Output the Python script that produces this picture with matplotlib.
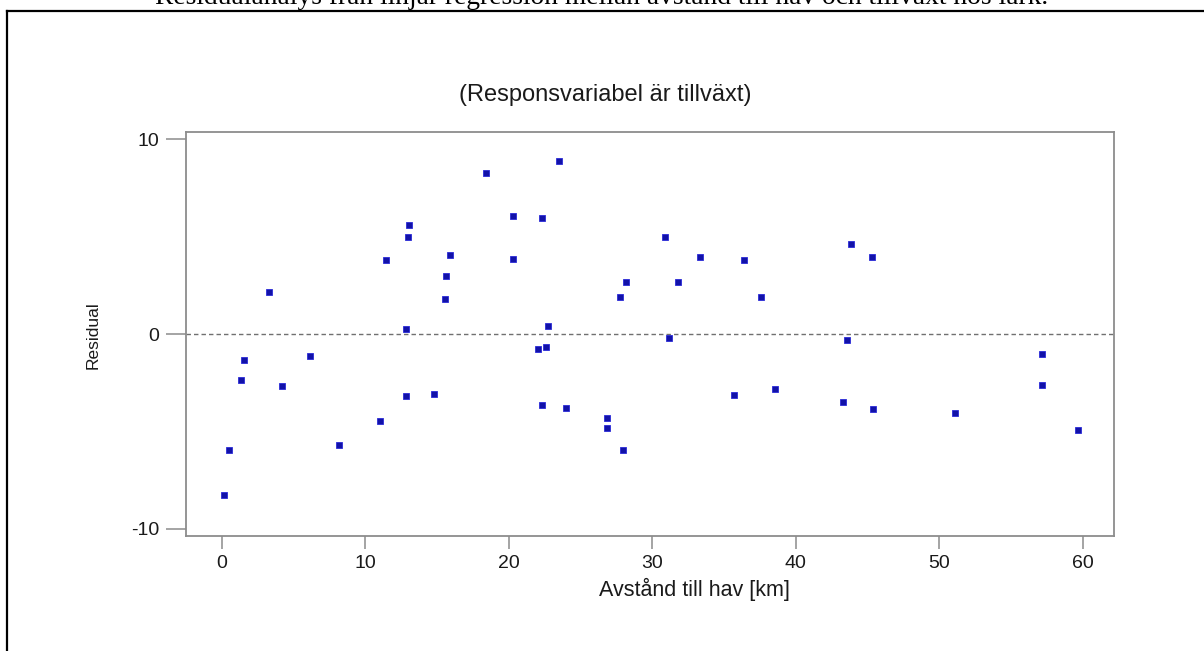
import matplotlib
matplotlib.use("Agg")
import matplotlib.pyplot as plt
from matplotlib.lines import Line2D

# avstånd till hav [km] och residualer
avstand = [0.16, 0.5, 1.35, 1.55, 3.32, 4.2, 6.17, 8.2, 11.0, 11.47,
           12.84, 12.84, 12.96, 13.05, 14.77, 15.54, 15.6, 15.89, 18.44, 20.28,
           20.32, 22.06, 22.6, 22.35, 22.76, 22.34, 23.5, 23.97, 26.86, 26.86,
           27.94, 27.74, 28.19, 30.9, 31.2, 31.82, 33.35, 35.7, 36.36, 37.56,
           38.58, 43.27, 43.6, 43.83, 45.3, 45.39, 51.07, 57.15, 57.15, 59.65]
residual = [-8.28, -5.93, -2.34, -1.35, 2.17, -2.69, -1.15, -5.68, -4.45, 3.79,
            -3.2, 0.27, 4.97, 5.62, -3.08, 1.81, 2.99, 4.05, 8.26, 6.08,
            3.86, -0.75, -0.69, -3.66, 0.43, 5.95, 8.89, -3.8, -4.31, -4.84,
            -5.98, 1.9, 2.68, 4.97, -0.22, 2.68, 3.98, -3.13, 3.78, 1.9,
            -2.82, -3.49, -0.29, 4.61, 3.95, -3.85, -4.05, -1.01, -2.63, -4.92]
xticks = [0, 10, 20, 30, 40, 50, 60]
yticks = [-10, 0, 10]

huvudrubrik = "Residualanalys från linjär regression mellan avstånd till hav och tillväxt hos lärk."
underrubrik = "(Responsvariabel är tillväxt)"

plt.rcParams['font.family'] = ['Liberation Sans', 'DejaVu Sans']
plt.rcParams['axes.unicode_minus'] = False

fig = plt.figure(figsize=(12.04, 6.51), dpi=100)
ax = fig.add_axes([0.1545, 0.1767, 0.7708, 0.6210])

ax.plot(avstand, residual, 's', color='#1212a8', markersize=4.6,
        markeredgewidth=0.6, markeredgecolor='#2a2ad8', zorder=3)
ax.axhline(0, color='#707070', lw=1.0, dashes=(3.2, 2.2), zorder=2)

ax.set_xlim(-2.49, 62.18)
ax.set_ylim(-10.37, 10.39)
ax.set_xticks(xticks)
ax.set_yticks(yticks)

grey = '#8c8c8c'
for s in ax.spines.values():
    s.set_color(grey)
    s.set_linewidth(1.3)
ax.tick_params(axis='x', length=9.4, width=1.1, color=grey, pad=4,
               labelsize=14, labelcolor='#1a1a1a')
ax.tick_params(axis='y', length=14.4, width=1.1, color=grey, pad=5,
               labelsize=14, labelcolor='#1a1a1a')

fig.text(0.5025, 0.854, underrubrik, ha='center', va='center',
         fontsize=17, color='#1a1a1a')
fig.text(0.577, 0.095, "Avstånd till hav [km]", ha='center', va='center',
         fontsize=15.5, color='#1a1a1a')
fig.text(0.077, 0.485, "Residual", ha='center', va='center',
         rotation=90, fontsize=12.5, color='#1a1a1a')

# rubrik, delvis avskuren överst
fig.text(0.5, 1 - 4.5 / 651, huvudrubrik, ha='center', va='baseline',
         fontsize=19.8, family='Liberation Serif', color='black')

# ram runt figuren
fig.add_artist(Line2D([7 / 1204, 7 / 1204], [0, 1 - 11 / 651],
                      transform=fig.transFigure, color='black', lw=1.6))
fig.add_artist(Line2D([7 / 1204, 1], [1 - 11 / 651, 1 - 11 / 651],
                      transform=fig.transFigure, color='black', lw=1.6))

fig.savefig("out.png", dpi=100, facecolor='white')
